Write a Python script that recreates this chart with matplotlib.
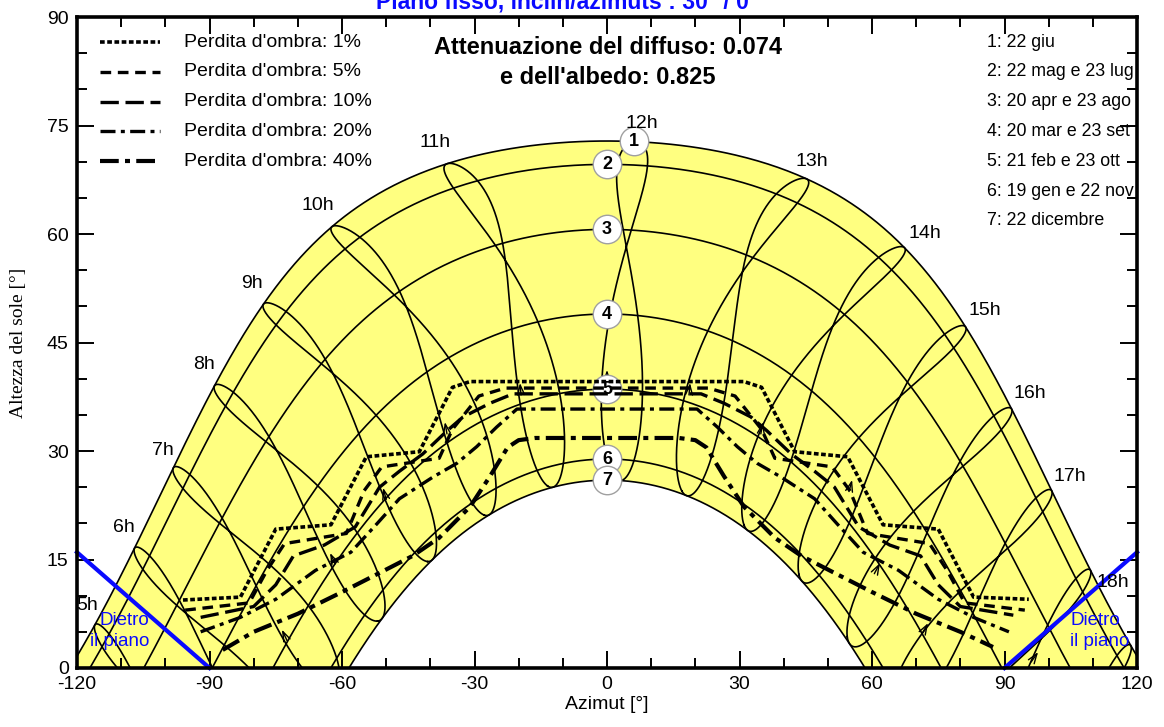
import numpy as np
import matplotlib.pyplot as plt
from matplotlib.ticker import MultipleLocator

plt.rcParams['axes.unicode_minus'] = False

LAT = 40.6
LON = 17.5
TZ = 1

# curve delle date (giorno dell'anno della prima data di ogni coppia)
date_doy = [173, 142, 110, 79, 52, 19, 356]
date_labels = ['1: 22 giu', '2: 22 mag e 23 lug', '3: 20 apr e 23 ago', '4: 20 mar e 23 set',
               '5: 21 feb e 23 ott', '6: 19 gen e 22 nov', '7: 22 dicembre']
circle_az_shift = [6, 0, 0, 0, 0, 0, 0]

# ore legali delle analemme
hours = list(range(5, 20))
hour_labels = ['5h', '6h', '7h', '8h', '9h', '10h', '11h', '12h', '13h', '14h', '15h', '16h', '17h', '18h']
hour_lab_az = [-117.7, -109.4, -100.5, -91.2, -80.4, -65.4, -38.9, 7.9, 46.4, 72.0, 85.6, 95.8, 104.8, 114.6]
hour_lab_alt = [8.6, 19.4, 30.1, 42.0, 53.2, 63.9, 72.6, 75.3, 70.0, 60.1, 49.4, 38.0, 26.5, 11.8]

# linee di iso-ombreggiamento
s1_az = [-96.0, -83.0, -75.0, -62.5, -54.5, -42.5, -35.0, -31.0, 31.0, 35.0, 42.5, 54.5, 62.5, 75.0, 83.0, 95.5]
s1_alt = [9.4, 9.8, 19.2, 19.8, 29.2, 29.9, 38.8, 39.6, 39.6, 38.8, 29.9, 29.2, 19.8, 19.2, 9.8, 9.5]
s5_az = [-95.5, -81, -77, -73, -59, -55, -51, -38, -35, -29, -23, 23, 29, 35, 38, 51, 55, 59, 73, 77, 81, 94.6]
s5_alt = [8.0, 9.0, 13.5, 17.2, 18.6, 24.5, 27.8, 29.0, 33.0, 37.6, 38.7, 38.7, 37.6, 33.0, 29.0, 27.8, 24.5,
          18.6, 17.2, 13.5, 9.0, 8.0]
s10_az = [-92, -80, -75, -71, -64, -57, -51.5, -47, -41.7, -36.2, -32.6, -26.5, -21.3,
          21.3, 26.5, 32.6, 36.2, 41.7, 47, 51.5, 57, 64, 71, 75, 80, 92]
s10_alt = [7.0, 8.5, 11.5, 15.5, 17.0, 19.5, 25.0, 27.2, 29.6, 32.8, 34.7, 36.6, 37.9,
           37.9, 36.6, 34.7, 32.8, 29.6, 27.2, 25.0, 19.5, 17.0, 15.5, 11.5, 8.5, 7.3]
s20_az = [-92, -83, -75, -66, -58, -52, -47, -39.4, -34, -29.5, -25, -20.4,
          20.4, 25, 29.5, 34, 39.4, 47, 52, 58, 66, 75, 83, 91]
s20_alt = [5.0, 7.0, 9.5, 13.5, 16.0, 20.0, 23.4, 26.4, 28.3, 30.6, 33.3, 35.8,
           35.8, 33.3, 30.6, 28.3, 26.4, 23.4, 20.0, 16.0, 13.5, 9.5, 7.0, 5.0]
s40_az = [-87, -80, -70, -60, -51, -44, -38, -31, -26.5, -22.5, -20, -16.3,
          16.3, 20, 22.5, 26.5, 31, 38, 44, 51, 60, 70, 80, 87.4]
s40_alt = [2.5, 5.0, 7.5, 10.5, 13.3, 15.5, 18.0, 22.3, 26.5, 30.5, 31.5, 31.8,
           31.8, 31.5, 30.5, 26.5, 22.3, 18.0, 15.5, 13.3, 10.5, 7.5, 5.0, 2.9]
shade_labels = ["Perdita d'ombra: 1%", "Perdita d'ombra: 5%", "Perdita d'ombra: 10%",
                "Perdita d'ombra: 20%", "Perdita d'ombra: 40%"]

# piccole frecce sulle analemme (azimut, altezza, direzione in gradi)
arrow_az = [0, -19.7, 18.8, -36.7, 35.3, -50.7, 55.5, -62.7, 61.8, -73.6, 72.7, 97.6]
arrow_alt = [41.2, 39.4, 39.4, 34.0, 34.0, 24.9, 26.0, 15.9, 14.5, 5.3, 6.2, 2.2]
arrow_dir = [90, 95, 85, 100, 80, 105, 75, 115, 62, 115, 60, 55]

# orizzonte del piano (dietro il piano)
behind_left_az = [-120, -90]
behind_left_alt = [16.0, 0.0]
behind_right_az = [90, 120]
behind_right_alt = [0.0, 16.0]


def decl_eot(doy):
    b = 2 * np.pi * (np.asarray(doy, dtype=float) - 1) / 365.0
    dec = (0.006918 - 0.399912 * np.cos(b) + 0.070257 * np.sin(b) - 0.006758 * np.cos(2 * b)
           + 0.000907 * np.sin(2 * b) - 0.002697 * np.cos(3 * b) + 0.00148 * np.sin(3 * b))
    eot = 229.18 * (0.000075 + 0.001868 * np.cos(b) - 0.032077 * np.sin(b)
                    - 0.014615 * np.cos(2 * b) - 0.040849 * np.sin(2 * b))
    return dec, eot


def sun_pos(dec, ha):
    lat = np.radians(LAT)
    alt = np.degrees(np.arcsin(np.sin(lat) * np.sin(dec) + np.cos(lat) * np.cos(dec) * np.cos(ha)))
    az = np.degrees(np.arctan2(np.sin(ha), np.cos(ha) * np.sin(lat) - np.tan(dec) * np.cos(lat)))
    return az, alt


fig = plt.figure(figsize=(11.64, 7.27), dpi=100)
ax = fig.add_axes([77 / 1164, 1 - 668 / 727, 1060 / 1164, 651 / 727])
ax.set_xlim(-120, 120)
ax.set_ylim(0, 90)

ha = np.radians(np.linspace(-180, 180, 1441))

# campo giallo tra 22 giu e 22 dic
dec_j, _ = decl_eot(date_doy[0])
dec_d, _ = decl_eot(date_doy[-1])
az_j, alt_j = sun_pos(dec_j, ha)
az_d, alt_d = sun_pos(dec_d, ha)
ax.fill(np.concatenate([az_j, az_d[::-1]]), np.concatenate([alt_j, alt_d[::-1]]),
        color='#ffff80', zorder=1, lw=0)

# curve delle date
for d in date_doy:
    dec, _ = decl_eot(d)
    az, alt = sun_pos(dec, ha)
    ax.plot(az, alt, color='black', lw=1.2, zorder=2)

# analemme
doys = np.arange(1, 366.01, 0.5)
dec_y, eot_y = decl_eot(doys)
for h in hours:
    solar = h + (LON - 15 * TZ) / 15.0 + eot_y / 60.0
    az, alt = sun_pos(dec_y, np.radians(15 * (solar - 12)))
    ax.plot(np.append(az, az[0]), np.append(alt, alt[0]), color='black', lw=1.2, zorder=2)

for lab, a, e in zip(hour_labels, hour_lab_az, hour_lab_alt):
    ax.text(a, e, lab, fontsize=14, ha='center', va='center', zorder=6, family='Liberation Sans')

# frecce (in pixel: 4.417 px/grado in x, 7.233 px/grado in y)
for a, e, d in zip(arrow_az, arrow_alt, arrow_dir):
    dx = -np.cos(np.radians(d)) * 12 / 4.417
    dy = -np.sin(np.radians(d)) * 12 / 7.233
    ax.annotate('', xy=(a, e), xytext=(a + dx, e + dy), zorder=3,
                arrowprops=dict(arrowstyle='->,head_length=0.7,head_width=0.25', lw=1.0,
                                color='black', shrinkA=0, shrinkB=0))

# cerchi numerati
for k, d in enumerate(date_doy):
    dec, _ = decl_eot(d)
    noon = 90 - LAT + np.degrees(dec)
    ax.scatter([circle_az_shift[k]], [noon], s=420, facecolor='white', edgecolor='#a0a0a0',
               lw=1.0, zorder=3)
    ax.text(circle_az_shift[k], noon, str(k + 1), fontsize=13, fontweight='bold', ha='center',
            va='center', zorder=3.5, family='Liberation Sans')

# iso-ombreggiamento
styles = [dict(lw=2.6, dashes=(1.3, 0.7)),
          dict(lw=2.4, dashes=(3.2, 2.0)),
          dict(lw=2.4, dashes=(5.5, 2.0)),
          dict(lw=2.4, dashes=(4.5, 1.6, 1.2, 1.6)),
          dict(lw=3.0, dashes=(4.5, 1.5, 1.2, 1.5))]
shade = [(s1_az, s1_alt), (s5_az, s5_alt), (s10_az, s10_alt), (s20_az, s20_alt), (s40_az, s40_alt)]
for (sa, se), st in zip(shade, styles):
    ax.plot(sa, se, color='black', zorder=4, solid_capstyle='butt', dash_capstyle='butt', **st)

# dietro il piano
ax.plot(behind_left_az, behind_left_alt, color='#0a0aff', lw=3, zorder=5, clip_on=False)
ax.plot(behind_right_az, behind_right_alt, color='#0a0aff', lw=3, zorder=5, clip_on=False)
ax.text(-103.6, 5.1, 'Dietro\nil piano', color='#0a0aff', fontsize=13.5, ha='right', va='center',
        linespacing=1.3, zorder=6, family='Liberation Sans')
ax.text(104.9, 5.1, 'Dietro\nil piano', color='#0a0aff', fontsize=13.5, ha='left', va='center',
        linespacing=1.3, zorder=6, family='Liberation Sans')


def px(x, y):
    return (x - 77) / 1060.0, (668 - y) / 651.0


# legenda perdite
for i, (lab, st) in enumerate(zip(shade_labels, styles)):
    yy = 42 + 29.8 * i
    x0, y0 = px(100, yy)
    x1, _ = px(160, yy)
    ax.plot([x0, x1], [y0, y0], color='black', transform=ax.transAxes, zorder=6,
            dash_capstyle='butt', **st)
    tx, ty = px(184, yy)
    ax.text(tx, ty, lab, transform=ax.transAxes, fontsize=14, va='center', ha='left',
            family='Liberation Sans', zorder=6)

# legenda date
for i, lab in enumerate(date_labels):
    tx, ty = px(987, 42 + 29.8 * i)
    ax.text(tx, ty, lab, transform=ax.transAxes, fontsize=12.8, va='center', ha='left',
            family='Liberation Sans', zorder=6)

tx, ty = px(608, 47)
ax.text(tx, ty, 'Attenuazione del diffuso: 0.074', transform=ax.transAxes, fontsize=17,
        fontweight='bold', ha='center', va='center', family='Liberation Sans')
tx, ty = px(608, 77)
ax.text(tx, ty, "e dell'albedo: 0.825", transform=ax.transAxes, fontsize=17,
        fontweight='bold', ha='center', va='center', family='Liberation Sans')

fig.text(567 / 1164, 1 - 8 / 727, 'Piano fisso, inclin/azimuts : 30° / 0°', color='#0a0aff',
         fontsize=16.5, fontweight='bold', ha='center', va='baseline', family='Liberation Sans')

# assi
ax.xaxis.set_major_locator(MultipleLocator(30))
ax.xaxis.set_minor_locator(MultipleLocator(10))
ax.yaxis.set_major_locator(MultipleLocator(15))
ax.yaxis.set_minor_locator(MultipleLocator(5))
ax.tick_params(which='both', direction='in', top=True, right=True, width=1.4)
ax.tick_params(which='major', length=12, labelsize=14, pad=6)
ax.tick_params(which='minor', length=7)
for lab in ax.get_xticklabels() + ax.get_yticklabels():
    lab.set_family('Liberation Sans')
for sp in ax.spines.values():
    sp.set_linewidth(2.6)
    sp.set_zorder(7)

ax.set_xlabel('Azimut [°]', fontsize=14, family='Liberation Sans', labelpad=2)
ax.set_ylabel('Altezza del sole [°]', fontsize=14, family='Liberation Serif', labelpad=14)

fig.savefig('out.png', dpi=100)
